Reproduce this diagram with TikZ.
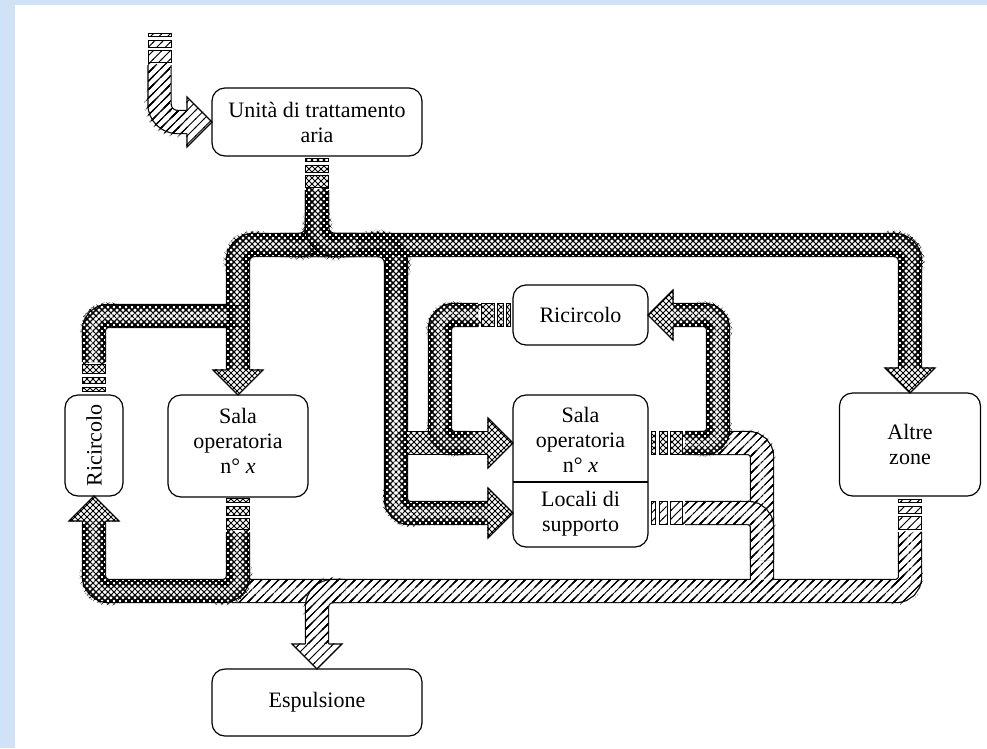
\documentclass[tikz,border=0pt]{standalone}
\usepackage{fontspec}
\setmainfont{Liberation Serif}
\usetikzlibrary{decorations.markings,patterns,calc}
\pgfdeclarepatternformonly{xh}{\pgfqpoint{-1pt}{-1pt}}{\pgfqpoint{7pt}{7pt}}{\pgfqpoint{6pt}{6pt}}{%
  \pgfsetlinewidth{0.95pt}%
  \pgfpathmoveto{\pgfqpoint{-0.6pt}{-0.6pt}}\pgfpathlineto{\pgfqpoint{6.6pt}{6.6pt}}%
  \pgfpathmoveto{\pgfqpoint{-0.6pt}{6.6pt}}\pgfpathlineto{\pgfqpoint{6.6pt}{-0.6pt}}%
  \pgfusepath{stroke}}
\pgfdeclarepatternformonly{sh}{\pgfqpoint{-1pt}{-1pt}}{\pgfqpoint{9.5pt}{9.5pt}}{\pgfqpoint{8.5pt}{8.5pt}}{%
  \pgfsetlinewidth{1pt}%
  \pgfpathmoveto{\pgfqpoint{-0.6pt}{-0.6pt}}\pgfpathlineto{\pgfqpoint{9.1pt}{9.1pt}}%
  \pgfusepath{stroke}}
\definecolor{bgblue}{RGB}{208,226,246}
\tikzset{
  box/.style={draw, line width=1.2pt, rounded corners=13pt, fill=white, align=center,
    inner sep=0pt, outer sep=0pt, font=\fontsize{22}{25}\selectfont},
  txt/.style={align=center, inner sep=0pt, font=\fontsize{22}{25}\selectfont},
  ol/.style={draw=black, line width=24.4pt},
  wh/.style={draw=white, line width=22pt},
  pat/.style={decorate, decoration={markings,
    mark=between positions 0.9pt and 1 step 1.4pt with {\fill[pattern=#1] (-0.9pt,-11pt) rectangle (0.9pt,11pt);}}},
  hd/.style={draw=black, line width=1.2pt, line join=miter}
}
\newcommand\duct[3]{%
  \path[ol,rounded corners=#2pt] #3;
  \path[wh,rounded corners=#2pt] #3;
  \path[pat=#1,rounded corners=#2pt] #3;}
\newcommand\headD[2]{%
  \fill[white] ($#2+(-25,-25)$) -- #2 -- ($#2+(25,-25)$) -- cycle;
  \fill[pattern=#1] ($#2+(-25,-25.6)$) -- #2 -- ($#2+(25,-25.6)$) -- cycle;
  \path[hd] ($#2+(-11.6,-25)$) -- ($#2+(-25,-25)$) -- #2 -- ($#2+(25,-25)$) -- ($#2+(11.6,-25)$);}
\newcommand\headU[2]{%
  \fill[white] ($#2+(-25,25)$) -- #2 -- ($#2+(25,25)$) -- cycle;
  \fill[pattern=#1] ($#2+(-25,25.6)$) -- #2 -- ($#2+(25,25.6)$) -- cycle;
  \path[hd] ($#2+(-11.6,25)$) -- ($#2+(-25,25)$) -- #2 -- ($#2+(25,25)$) -- ($#2+(11.6,25)$);}
\newcommand\headR[2]{%
  \fill[white] ($#2+(-25,-25)$) -- #2 -- ($#2+(-25,25)$) -- cycle;
  \fill[pattern=#1] ($#2+(-25.6,-25)$) -- #2 -- ($#2+(-25.6,25)$) -- cycle;
  \path[hd] ($#2+(-25,-11.6)$) -- ($#2+(-25,-25)$) -- #2 -- ($#2+(-25,25)$) -- ($#2+(-25,11.6)$);}
\newcommand\headL[2]{%
  \fill[white] ($#2+(25,-25)$) -- #2 -- ($#2+(25,25)$) -- cycle;
  \fill[pattern=#1] ($#2+(25.6,-25)$) -- #2 -- ($#2+(25.6,25)$) -- cycle;
  \path[hd] ($#2+(25,-11.6)$) -- ($#2+(25,-25)$) -- #2 -- ($#2+(25,25)$) -- ($#2+(25,11.6)$);}
\newcommand\blkV[4]{%
  \filldraw[fill=white,line width=1pt] (#2-11.5,#3) rectangle (#2+11.5,#4);
  \fill[pattern=#1] (#2-11,#3+0.5) rectangle (#2+11,#4-0.5);}
\newcommand\blkH[4]{%
  \filldraw[fill=white,line width=1pt] (#2,#4-11.5) rectangle (#3,#4+11.5);
  \fill[pattern=#1] (#2+0.5,#4-11) rectangle (#3-0.5,#4+11);}
\newcommand\SupplyGroup[1]{%
  \path[#1, rounded corners=16pt] (238,370) -- (238,245) -- (910,245) -- (910,368);
  \path[#1, rounded corners=14pt] (94,362) -- (94,316) -- (238,316);
  \path[#1, rounded corners=18pt] (300,245) -- (396,245) -- (396,300);
  \path[#1, rounded corners=14pt] (396,300) -- (396,513) -- (488,513);
  \path[#1] (396,443) -- (488,443);
  \path[#1, rounded corners=14pt] (478,315) -- (440,315) -- (440,443) -- (470,443);}
\newcommand\ExhaustGroup[1]{%
  \path[#1, rounded corners=14pt] (910,532) -- (910,591) -- (232,591);
  \path[#1, rounded corners=14pt] (700,443) -- (762,443) -- (762,591);}
\begin{document}
\begin{tikzpicture}[x=1pt,y=-1pt]
\useasboundingbox (0,0) rectangle (987,748);
\fill[bgblue] (0,0) rectangle (15,748);
\fill[bgblue] (0,0) rectangle (987,5);

% boxes
\node[box, minimum width=210, minimum height=68] (unita) at (317,122) {Unità di trattamento\\aria};
\node[box, minimum width=58, minimum height=101] (lric) at (94,445.5) {};
\node[txt, rotate=90] (lrict) at (lric.center) {Ricircolo};
\node[box, minimum width=140, minimum height=102] (lsala) at (238,446) {};
\node[txt] (lsalat) at (238,441) {Sala\\operatoria\\n° \textit{x}};
\node[box, minimum width=135, minimum height=60] (mric) at (580.5,315) {Ricircolo};
\node[box, minimum width=135, minimum height=152] (mid) at (580.5,471) {};
\node[txt] (midsala) at (580.5,440) {Sala\\operatoria\\n° \textit{x}};
\node[txt] (locali) at (580.5,514) {Locali di\\supporto};
\draw[line width=1.2pt] ($(mid.west)+(0,11)$) -- ($(mid.east)+(0,11)$);
\node[box, minimum width=141, minimum height=103] (altre) at (910,444.5) {Altre\\zone};
\node[box, minimum width=210, minimum height=67] (esp) at (317,702.5) {Espulsione};

\coordinate (tS) at ($(mid.west)+(0,-28)$);
\coordinate (tL) at ($(mid.west)+(0,42)$);

% intake
\duct{sh}{18}{(159.5,65) -- (159.5,122) -- (188,122)}
\headR{sh}{(unita.west)}

% supply group
\SupplyGroup{ol}
\SupplyGroup{wh}
\SupplyGroup{pat=xh}
\headD{xh}{(lsala.north)}
\headD{xh}{(altre.north)}
\headR{xh}{(tS)}
\headR{xh}{(tL)}

% split under the air handling unit
\duct{xh}{18}{(317,190) -- (317,245) -- (280,245)}
\duct{xh}{18}{(317,190) -- (317,245) -- (356,245)}

% exhaust main
\ExhaustGroup{ol}
\ExhaustGroup{wh}
\ExhaustGroup{pat=sh}
\duct{sh}{14}{(685,513) -- (762,513) -- (762,560)}
\duct{sh}{16}{(345,591) -- (317,591) -- (317,644)}
\headD{sh}{(esp.north)}

% recirculation of the middle room
\duct{xh}{14}{(685,443) -- (718,443) -- (718,315) -- (673,315)}
\headL{xh}{(mric.east)}

% left room exhaust to recirculation
\duct{xh}{15}{(238,532) -- (238,591) -- (94,591) -- (94,521)}
\headU{xh}{(lric.south)}

% fragment blocks
\blkV{xh}{317}{158}{161.5}\blkV{xh}{317}{165}{172.5}\blkV{xh}{317}{175.5}{187}
\blkV{sh}{159.5}{33}{36.5}\blkV{sh}{159.5}{40}{47}\blkV{sh}{159.5}{50}{62}
\blkV{xh}{94}{364.5}{373}\blkV{xh}{94}{377}{383.5}\blkV{xh}{94}{387}{391}
\blkV{xh}{238}{498.5}{502.5}\blkV{xh}{238}{506}{515}\blkV{xh}{238}{518}{529}
\blkV{sh}{910}{499}{502.5}\blkV{sh}{910}{506}{513}\blkV{sh}{910}{516}{529}
\blkH{xh}{481}{494}{315}\blkH{xh}{497}{503}{315}\blkH{xh}{506}{510}{315}
\blkH{xh}{651.5}{655.5}{443}\blkH{xh}{659}{667}{443}\blkH{xh}{670}{682}{443}
\blkH{sh}{651.5}{655.5}{513}\blkH{sh}{659}{667}{513}\blkH{sh}{670}{682}{513}
\end{tikzpicture}
\end{document}
